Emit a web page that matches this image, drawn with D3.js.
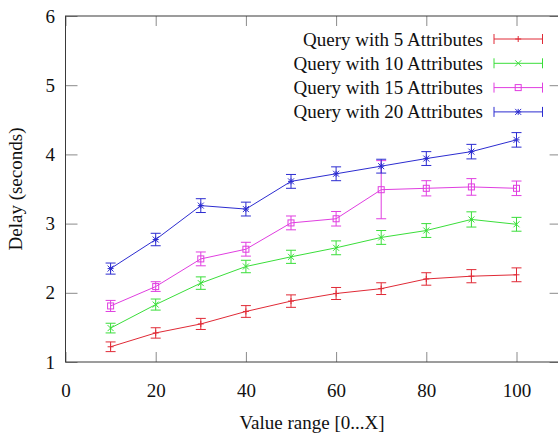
<!DOCTYPE html>
<html>
<head>
  <meta charset="utf-8">
  <title>Delay vs value range</title>
  <style>
    body { margin: 0; background: #fff; }
    text { font-family: "Liberation Serif", "Times New Roman", serif; font-size: 19px; fill: #111; }
  </style>
</head>
<body>
<script src="https://cdnjs.cloudflare.com/ajax/libs/d3/7.8.5/d3.min.js"></script>
<script>
var w = 558, h = 435;
var boxL = 65.5, boxR = 561.6, boxT = 16, boxB = 362; // plot box, right edge falls off the picture

// data
var xValues = [10, 20, 30, 40, 50, 60, 70, 80, 90, 100];
var seriesNames = ["Query with 5 Attributes", "Query with 10 Attributes",
                   "Query with 15 Attributes", "Query with 20 Attributes"];
var delay5  = [1.22, 1.42, 1.55, 1.73, 1.88, 1.99, 2.06, 2.20, 2.24, 2.26];
var err5    = [0.07, 0.075, 0.08, 0.085, 0.09, 0.087, 0.085, 0.09, 0.095, 0.10];
var delay10 = [1.49, 1.83, 2.14, 2.38, 2.52, 2.65, 2.80, 2.90, 3.06, 2.99];
var err10   = [0.07, 0.08, 0.09, 0.09, 0.095, 0.10, 0.10, 0.10, 0.11, 0.10];
var delay15 = [1.81, 2.09, 2.49, 2.63, 3.01, 3.07, 3.49, 3.51, 3.53, 3.51];
var err15   = [0.08, 0.07, 0.10, 0.10, 0.10, 0.105, 0.42, 0.11, 0.12, 0.105];
var delay20 = [2.35, 2.77, 3.26, 3.21, 3.61, 3.72, 3.83, 3.94, 4.04, 4.21];
var err20   = [0.08, 0.09, 0.10, 0.10, 0.10, 0.10, 0.10, 0.10, 0.105, 0.105];
var xTicks = [0, 20, 40, 60, 80, 100];
var yTicks = [1, 2, 3, 4, 5, 6];

var colors = ["#e02a36", "#3ade3a", "#e03ee0", "#2c2cd0"];
var markers = ["plus", "cross", "square", "star"];

var series = [
  {name: seriesNames[0], y: delay5, e: err5},
  {name: seriesNames[1], y: delay10, e: err10},
  {name: seriesNames[2], y: delay15, e: err15},
  {name: seriesNames[3], y: delay20, e: err20}
];

var x = d3.scaleLinear().domain([0, 110]).range([boxL, boxR]);
var y = d3.scaleLinear().domain([1, 6]).range([boxB, boxT]);

var svg = d3.select("body").append("svg")
  .attr("width", w)
  .attr("height", h);

// axes, ticks mirrored on all four sides like gnuplot
function styleAxis(g) {
  g.select(".domain").remove();
  g.selectAll(".tick line").attr("stroke", "#8a8a8a");
  g.selectAll(".tick text").attr("fill", "#111").attr("font-family", null).attr("font-size", null);
}
svg.append("g").attr("transform", "translate(0," + boxB + ")")
  .call(d3.axisBottom(x).tickValues(xTicks).tickSize(-10).tickPadding(21.5).tickFormat(d3.format("d")))
  .call(styleAxis);
svg.append("g").attr("transform", "translate(0," + boxT + ")")
  .call(d3.axisTop(x).tickValues(xTicks).tickSize(-10).tickFormat(""))
  .call(styleAxis);
svg.append("g").attr("transform", "translate(" + boxL + ",0)")
  .call(d3.axisLeft(y).tickValues(yTicks).tickSize(-12).tickPadding(10.5).tickFormat(d3.format("d")))
  .call(styleAxis);
svg.append("g").attr("transform", "translate(" + boxR + ",0)")
  .call(d3.axisRight(y).tickValues(yTicks).tickSize(-12).tickFormat(""))
  .call(styleAxis);

svg.append("rect")
  .attr("x", boxL).attr("y", boxT)
  .attr("width", boxR - boxL).attr("height", boxB - boxT)
  .attr("fill", "none").attr("stroke", "#3a3a3a").attr("stroke-width", 1);

// axis titles
svg.append("text")
  .attr("x", 312).attr("y", 429)
  .attr("text-anchor", "middle")
  .text("Value range [0...X]");
svg.append("text")
  .attr("transform", "translate(22," + ((boxT + boxB) / 2) + ") rotate(-90)")
  .attr("text-anchor", "middle")
  .text("Delay (seconds)");

// point symbols
function marker(g, type, cx, cy) {
  var s = 3;
  if (type == "plus") {
    g.append("path").attr("d", "M" + (cx - s) + "," + cy + "H" + (cx + s) + "M" + cx + "," + (cy - s) + "V" + (cy + s));
  } else if (type == "cross") {
    g.append("path").attr("d", "M" + (cx - s) + "," + (cy - s) + "L" + (cx + s) + "," + (cy + s) + "M" + (cx - s) + "," + (cy + s) + "L" + (cx + s) + "," + (cy - s));
  } else if (type == "square") {
    g.append("rect").attr("x", cx - s).attr("y", cy - s).attr("width", 2 * s).attr("height", 2 * s).attr("fill", "none");
  } else {
    g.append("path").attr("d", "M" + (cx - s) + "," + cy + "H" + (cx + s) + "M" + cx + "," + (cy - s) + "V" + (cy + s) +
      "M" + (cx - s) + "," + (cy - s) + "L" + (cx + s) + "," + (cy + s) + "M" + (cx - s) + "," + (cy + s) + "L" + (cx + s) + "," + (cy - s));
  }
}

var line = d3.line().x(function(d) { return x(d[0]); }).y(function(d) { return y(d[1]); });
var cap = 5;

series.forEach(function(s, i) {
  var g = svg.append("g").attr("stroke", colors[i]).attr("fill", "none").attr("stroke-width", 1);
  var pts = xValues.map(function(v, j) { return [v, s.y[j], s.e[j]]; });
  g.append("path").attr("d", line(pts));
  pts.forEach(function(p) {
    var cx = x(p[0]), lo = y(p[1] - p[2]), hi = y(p[1] + p[2]);
    g.append("path").attr("d", "M" + cx + "," + lo + "V" + hi +
      "M" + (cx - cap) + "," + lo + "H" + (cx + cap) +
      "M" + (cx - cap) + "," + hi + "H" + (cx + cap));
    marker(g, markers[i], cx, y(p[1]));
  });

  // legend entry
  var ly = 39 + i * 24.3;
  svg.append("text")
    .attr("x", 483).attr("y", ly + 6.5)
    .attr("text-anchor", "end")
    .text(s.name);
  var lg = svg.append("g").attr("stroke", colors[i]).attr("fill", "none");
  lg.append("path").attr("d", "M494," + ly + "H542.5M494," + (ly - 5) + "V" + (ly + 5) + "M542.5," + (ly - 5) + "V" + (ly + 5));
  marker(lg, markers[i], 518.2, ly);
});
</script>
</body>
</html>
